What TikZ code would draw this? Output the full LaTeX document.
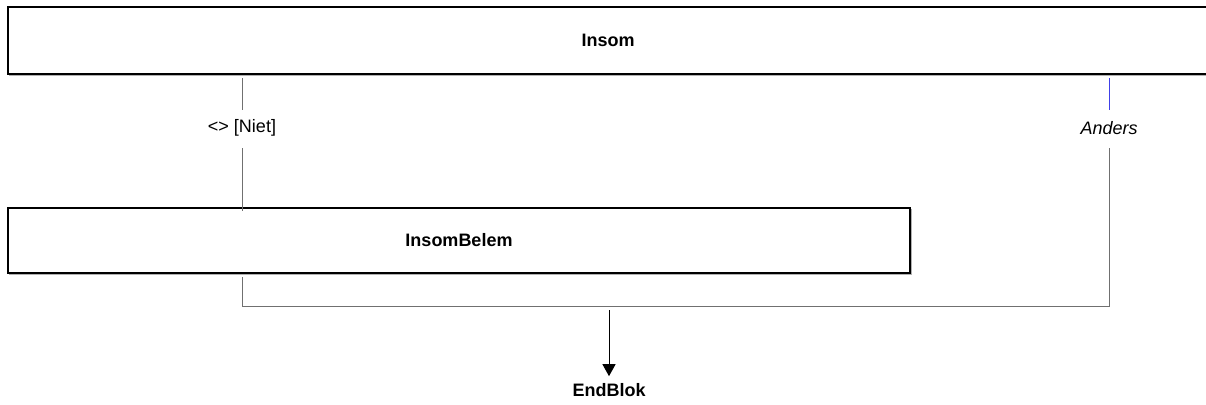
\documentclass[tikz,border=0pt]{standalone}
\usepackage{fontspec}
\setmainfont{Liberation Sans}
\usetikzlibrary{arrows.meta,calc}
\definecolor{linegray}{HTML}{707070}
\definecolor{shadowgray}{HTML}{B0B0B0}
\definecolor{blueline}{HTML}{4040E8}
\tikzset{
  blockbox/.style={draw=black,line width=1.1pt,fill=white,inner sep=0pt,font=\fontsize{18}{20}\selectfont\bfseries},
  conn/.style={draw=linegray,line width=1pt},
  cond/.style={inner sep=0pt,font=\fontsize{18}{20}\selectfont},
  endlabel/.style={inner sep=0pt,font=\fontsize{18}{20}\selectfont\bfseries},
  flowarrow/.style={draw=black,line width=1pt,-{Triangle[length=12pt,width=13pt]}}
}
\begin{document}
\begin{tikzpicture}[x=1pt,y=-1pt]
\useasboundingbox (0,0) rectangle (1206,404);
\fill[white] (0,0) rectangle (1206,404);
% shadows
\draw[shadowgray,line width=1.2pt] (9,75.3) -- (1212,75.3);
\draw[shadowgray,line width=1.2pt] (9,274.3) -- (911.3,274.3) -- (911.3,209);
% boxes
\node[blockbox,minimum width=1204pt,minimum height=67pt] (insom) at (610,40.5) {\hspace*{-4pt}Insom};
\node[blockbox,minimum width=902pt,minimum height=65pt] (belem) at (459,240.5) {InsomBelem};
% coordinates
\coordinate (l1) at (242,78);
\coordinate (l2) at (242,110);
\coordinate (l3) at (242,148);
\coordinate (l4) at (242,211);
\coordinate (l5) at (242,277);
\coordinate (l6) at (242,306);
\coordinate (r1) at (1109,78);
\coordinate (r2) at (1109,110);
\coordinate (r3) at (1109,148);
\coordinate (r6) at (1109,306);
\coordinate (a1) at (609,310);
% labels
\node[cond] (niet) at (242,128) {<> [Niet]};
\node[cond,font=\fontsize{18}{20}\selectfont\itshape] (anders) at (1109,128) {Anders};
\node[endlabel] (endblok) at (609,390) {EndBlok};
% connectors
\draw[conn] (l1) -- (l2);
\draw[conn] (l3) -- (l4);
\draw[blueline,line width=1pt] (r1) -- (r2);
\draw[conn] (r3) -- (r6) -- (l6) -- (l5);
\draw[flowarrow] (a1) -- ($(endblok.north)+(0,-7)$);
\end{tikzpicture}
\end{document}
